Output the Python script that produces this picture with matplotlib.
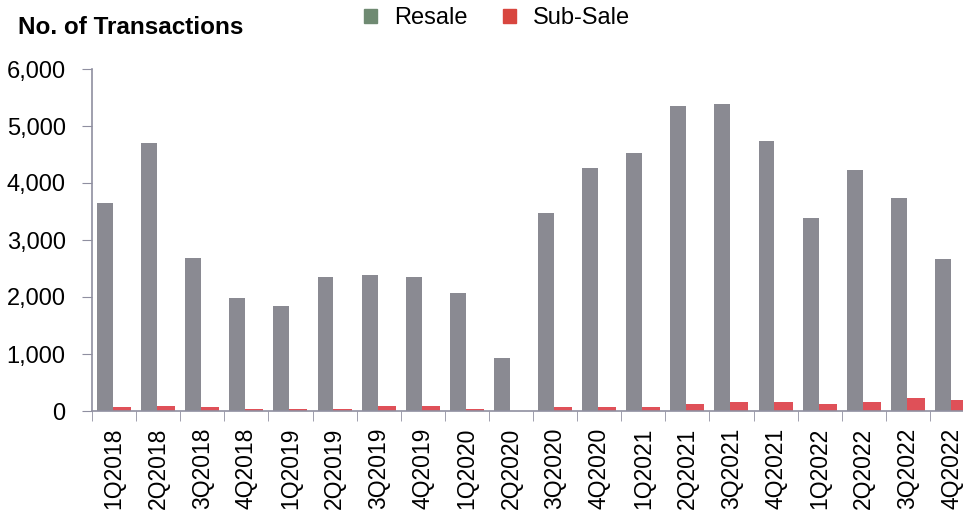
import matplotlib.pyplot as plt
from matplotlib.patches import Patch
import numpy as np

plt.rcParams['font.family'] = ['Liberation Sans', 'DejaVu Sans']

quarters = ['1Q2018', '2Q2018', '3Q2018', '4Q2018', '1Q2019', '2Q2019', '3Q2019',
            '4Q2019', '1Q2020', '2Q2020', '3Q2020', '4Q2020', '1Q2021', '2Q2021',
            '3Q2021', '4Q2021', '1Q2022', '2Q2022', '3Q2022', '4Q2022']
resale = [3650, 4700, 2680, 1980, 1840, 2350, 2390, 2350, 2070, 930,
          3470, 4260, 4520, 5350, 5380, 4740, 3380, 4230, 3740, 2670]
subsale = [65, 95, 65, 35, 35, 35, 95, 95, 35, 5,
           65, 65, 65, 123, 158, 158, 128, 158, 222, 193]

resale_col = '#8a8a92'
sub_col = '#df5058'
axis_col = '#8f8fa0'

fig = plt.figure(figsize=(9.63, 5.17), dpi=100)
ax = fig.add_axes([92 / 963, 106 / 517, 1 - 92 / 963, (411 - 69) / 517])

x = np.arange(len(quarters))
ax.bar(x - 0.205, resale, width=0.36, color=resale_col)
ax.bar(x + 0.18, subsale, width=0.41, color=sub_col)

ax.set_xlim(-0.5, 19.25)
ax.set_ylim(0, 6000)
ax.set_yticks(range(0, 6001, 1000))
ax.set_yticklabels(['{:,}'.format(v) for v in range(0, 6001, 1000)], fontsize=17)

ax.set_xticks(x)
ax.set_xticklabels(quarters, rotation=90, fontsize=16.5)
ax.tick_params(axis='x', which='major', length=0, pad=12)
ax.set_xticks(x - 0.5, minor=True)
ax.tick_params(axis='x', which='minor', length=7, color=axis_col, direction='out')
ax.tick_params(axis='y', length=7, color=axis_col, pad=12)

for s in ['top', 'right']:
    ax.spines[s].set_visible(False)
for s in ['left', 'bottom']:
    ax.spines[s].set_color(axis_col)
    ax.spines[s].set_linewidth(1.2)

fig.text(18 / 963, 1 - 28 / 517, 'No. of Transactions', fontsize=17.5, fontweight='bold',
         va='center', ha='left')
handles = [Patch(color='#6f8a72', label='Resale'), Patch(color='#d8463f', label='Sub-Sale')]
fig.legend(handles=handles, loc='center', bbox_to_anchor=(497 / 963, 1 - 18 / 517), ncol=2,
           frameon=False, fontsize=17, handlelength=0.55, handleheight=0.55,
           handletextpad=0.7, columnspacing=1.5)

fig.savefig('out.png', dpi=100)
